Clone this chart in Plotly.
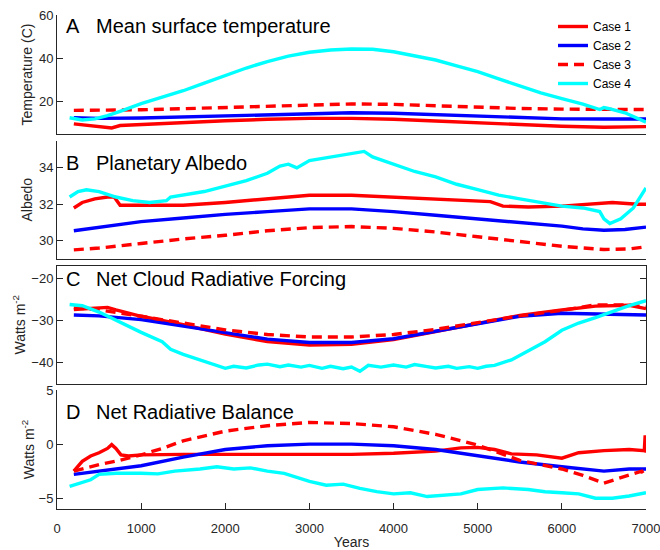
import plotly.graph_objects as go

# ---------------- data ----------------
# Panel A: mean surface temperature (C)
a1_years = [200, 400, 600, 650, 750, 1000, 1500, 2000, 2500, 3000, 3500, 4000, 4500, 5000, 5500, 6000, 6500, 7000]
a1_vals = [9.7, 9.0, 8.0, 7.8, 8.9, 9.4, 10.3, 11.1, 11.8, 12.2, 12.2, 11.8, 11.0, 10.2, 9.2, 8.6, 8.1, 8.4]
a2_years = [200, 500, 1000, 1500, 2000, 2500, 3000, 3500, 4000, 4500, 5000, 5500, 6000, 6500, 7000]
a2_vals = [12.5, 12.2, 12.4, 12.9, 13.5, 14.1, 14.6, 14.8, 14.6, 14.0, 13.2, 12.5, 12.0, 11.9, 11.9]
a3_years = [200, 500, 1000, 1500, 2000, 2500, 3000, 3500, 4000, 4500, 5000, 5500, 6000, 6500, 7000]
a3_vals = [15.9, 15.9, 16.2, 16.7, 17.3, 18.0, 18.6, 18.9, 18.7, 18.0, 17.3, 16.8, 16.5, 16.3, 16.3]
a4_years = [150, 300, 450, 600, 750, 1000, 1250, 1500, 1750, 2000, 2250, 2500, 2750, 3000, 3250, 3500,
            3750, 4000, 4250, 4500, 4750, 5000, 5250, 5500, 5750, 6000, 6250, 6450, 6500, 6550, 6750, 7000]
a4_vals = [12.5, 11.5, 12.0, 13.5, 15.5, 19.0, 22.0, 25.0, 28.5, 32.0, 35.5, 38.5, 41.0, 42.8, 43.8, 44.3,
           44.2, 43.0, 41.3, 39.2, 36.5, 33.8, 30.5, 27.2, 24.0, 21.3, 18.8, 16.3, 17.2, 16.8, 14.8, 10.5]

# Panel B: planetary albedo
b1_years = [200, 300, 450, 600, 680, 750, 1000, 1500, 2000, 2500, 3000, 3500, 4000, 4500, 5000, 5150,
            5300, 5600, 6000, 6300, 6600, 6900, 7000]
b1_vals = [31.8, 32.1, 32.3, 32.4, 32.4, 31.95, 31.95, 31.95, 32.1, 32.3, 32.5, 32.5, 32.4, 32.3, 32.2, 32.15,
           31.9, 31.85, 31.9, 32.0, 32.1, 32.0, 32.0]
b2_years = [200, 500, 1000, 1500, 2000, 2500, 3000, 3500, 4000, 4500, 5000, 5500, 6000, 6250, 6500, 6750, 7000]
b2_vals = [30.55, 30.75, 31.05, 31.25, 31.45, 31.6, 31.75, 31.75, 31.6, 31.4, 31.2, 31.0, 30.8, 30.65, 30.58, 30.62, 30.75]
b3_years = [200, 500, 1000, 1500, 2000, 2500, 3000, 3500, 4000, 4500, 5000, 5500, 6000, 6500, 6800, 7000]
b3_vals = [29.5, 29.6, 29.85, 30.1, 30.3, 30.55, 30.72, 30.78, 30.68, 30.48, 30.22, 29.95, 29.7, 29.52, 29.55, 29.67]
b4_years = [150, 250, 350, 500, 700, 900, 1100, 1300, 1350, 1500, 1750, 2000, 2250, 2500, 2650, 2750, 2850,
            3000, 3250, 3500, 3650, 3750, 4000, 4250, 4500, 4750, 5000, 5250, 5500, 5750, 6000, 6250, 6450,
            6500, 6570, 6700, 6850, 7000]
b4_vals = [32.4, 32.7, 32.8, 32.7, 32.4, 32.2, 32.1, 32.2, 32.4, 32.5, 32.7, 33.0, 33.3, 33.7, 34.1, 34.2, 34.0,
           34.4, 34.6, 34.8, 34.9, 34.6, 34.2, 33.8, 33.5, 33.1, 32.8, 32.5, 32.3, 32.1, 31.9, 31.8, 31.6,
           31.2, 30.95, 31.2, 31.8, 32.9]

# Panel C: net cloud radiative forcing (W m-2)
c1_years = [200, 400, 600, 700, 1000, 1500, 2000, 2500, 3000, 3500, 4000, 4500, 5000, 5500, 6000, 6400, 6800, 7000]
c1_vals = [-27.4, -27.2, -26.9, -27.5, -29.0, -31.0, -33.2, -35.0, -35.8, -35.6, -34.5, -32.6, -30.6, -28.8,
           -27.5, -26.6, -26.4, -27.2]
c2_years = [200, 500, 1000, 1500, 2000, 2500, 3000, 3500, 4000, 4500, 5000, 5500, 6000, 6500, 7000]
c2_vals = [-28.7, -28.9, -29.8, -31.3, -33.0, -34.4, -35.2, -35.2, -34.3, -32.5, -30.6, -29.0, -28.3, -28.4, -28.7]
c3_years = [200, 500, 1000, 1500, 2000, 2500, 3000, 3500, 4000, 4500, 5000, 5500, 6000, 6400, 6800, 7000]
c3_vals = [-27.0, -27.5, -29.0, -30.7, -32.2, -33.3, -33.9, -33.9, -33.3, -32.1, -30.5, -28.9, -27.6, -26.3,
           -26.3, -26.8]
c4_years = [150, 300, 500, 750, 1000, 1250, 1350, 1500, 1650, 1750, 1900, 2000, 2100, 2250, 2400, 2500, 2650,
            2750, 2900, 3000, 3150, 3250, 3400, 3500, 3600, 3700, 3850, 4000, 4150, 4250, 4400, 4500, 4650,
            4750, 4900, 5000, 5100, 5200, 5400, 5600, 5800, 6000, 6200, 6400, 6600, 6800, 7000]
c4_vals = [-26.2, -26.5, -28.0, -30.5, -32.8, -35.0, -36.8, -38.0, -39.0, -39.6, -40.8, -41.3, -40.8, -41.2,
           -40.5, -40.3, -40.9, -40.5, -41.0, -40.6, -41.3, -40.8, -41.4, -41.0, -42.0, -40.6, -41.0, -40.5,
           -41.0, -40.4, -40.9, -41.2, -40.8, -41.3, -40.9, -41.3, -40.8, -40.6, -39.3, -37.2, -35.0, -32.3,
           -30.6, -29.3, -27.8, -26.5, -25.3]

# Panel D: net radiative balance (W m-2)
d1_years = [200, 300, 400, 500, 600, 650, 700, 760, 850, 1000, 1500, 2000, 2500, 3000, 3500, 4000, 4500,
            4800, 5000, 5200, 5400, 5700, 6000, 6200, 6500, 6800, 6980, 6990, 7000]
d1_vals = [-2.5, -1.6, -1.1, -0.8, -0.4, -0.05, -0.4, -1.0, -1.1, -1.0, -0.95, -0.95, -1.0, -1.0, -0.95,
           -0.85, -0.65, -0.35, -0.3, -0.5, -0.9, -1.0, -1.3, -0.8, -0.6, -0.5, -0.6, 0.8, -0.8]
d2_years = [200, 500, 1000, 1500, 2000, 2500, 3000, 3500, 4000, 4500, 5000, 5500, 6000, 6500, 6800, 7000]
d2_vals = [-2.8, -2.5, -2.0, -1.2, -0.5, -0.15, 0.0, 0.0, -0.15, -0.5, -1.1, -1.65, -2.1, -2.5, -2.3, -2.3]
d3_years = [200, 500, 750, 1000, 1250, 1500, 2000, 2500, 3000, 3500, 4000, 4500, 5000, 5500, 6000, 6250,
            6500, 6800, 6950, 7000]
d3_vals = [-2.5, -1.9, -1.5, -1.0, -0.4, 0.3, 1.2, 1.7, 2.0, 1.9, 1.6, 0.9, -0.1, -1.5, -2.3, -2.9, -3.6,
           -2.9, -2.5, -3.1]
d4_years = [150, 300, 400, 500, 700, 1000, 1200, 1400, 1500, 1700, 1900, 2000, 2100, 2300, 2500, 2700, 2900,
            3000, 3200, 3400, 3600, 3800, 4000, 4200, 4400, 4600, 4800, 5000, 5300, 5600, 5800, 6000, 6200,
            6400, 6600, 6800, 7000]
d4_vals = [-3.9, -3.5, -3.3, -2.8, -2.7, -2.7, -2.75, -2.5, -2.45, -2.3, -2.1, -2.2, -2.3, -2.2, -2.5, -2.7,
           -3.2, -3.45, -3.8, -3.7, -4.1, -4.4, -4.6, -4.5, -4.85, -4.75, -4.6, -4.2, -4.05, -4.2, -4.4, -4.5,
           -4.6, -5.0, -5.0, -4.8, -4.5]

case_names = ["Case 1", "Case 2", "Case 3", "Case 4"]
panel_letters = ["A", "B", "C", "D"]
panel_titles = ["Mean surface temperature", "Planetary Albedo", "Net Cloud Radiative Forcing", "Net Radiative Balance"]
y_titles = ["Temperature (C)", "Albedo", "Watts m<sup>-2</sup>", "Watts m<sup>-2</sup>"]
y_ranges = [[5, 60], [29, 35.5], [-45, -17], [-6, 5]]
y_ticks = [[20, 40, 60], [30, 32, 34], [-40, -30, -20], [-5, 0, 5]]
x_ticks = [0, 1000, 2000, 3000, 4000, 5000, 6000, 7000]

panels = [
    [(a1_years, a1_vals), (a2_years, a2_vals), (a3_years, a3_vals), (a4_years, a4_vals)],
    [(b1_years, b1_vals), (b2_years, b2_vals), (b3_years, b3_vals), (b4_years, b4_vals)],
    [(c1_years, c1_vals), (c2_years, c2_vals), (c3_years, c3_vals), (c4_years, c4_vals)],
    [(d1_years, d1_vals), (d2_years, d2_vals), (d3_years, d3_vals), (d4_years, d4_vals)],
]

# ---------------- styling ----------------
W, H = 660, 550
ML, MR, MT, MB = 57, 14, 15, 41
PW, PH = W - ML - MR, H - MT - MB
FONT = "Liberation Sans, Arial, Helvetica, sans-serif"
AX = "#262626"
line_styles = [
    dict(color="#FF0000", width=3.4),
    dict(color="#0000FF", width=3.4),
    dict(color="#FF0000", width=3.4, dash="10px,6px"),
    dict(color="#00FFFF", width=3.4),
]


def py(y_page):
    return (H - MB - y_page) / PH


def px(x_page):
    return (x_page - ML) / PW


# panel vertical extents in page px (top, bottom)
extents = [(15, 134), (140.5, 259), (265.5, 384), (390, 509)]
y_standoffs = [3, 3, 2, 0]

fig = go.Figure()
for p, series in enumerate(panels):
    xa = "x" if p == 0 else f"x{p + 1}"
    ya = "y" if p == 0 else f"y{p + 1}"
    for k, (xs, ys) in enumerate(series):
        fig.add_trace(go.Scatter(
            x=xs, y=ys, mode="lines", line=line_styles[k], name=case_names[k],
            showlegend=(p == 0), xaxis=xa, yaxis=ya, hoverinfo="skip"))

layout = dict(
    width=W, height=H,
    margin=dict(l=ML, r=MR, t=MT, b=MB, pad=0, autoexpand=False),
    paper_bgcolor="white", plot_bgcolor="white",
    font=dict(family=FONT, size=13, color=AX),
    showlegend=True,
    legend=dict(x=px(553), y=py(12), xanchor="left", yanchor="top",
                bgcolor="rgba(0,0,0,0)", borderwidth=0, tracegroupgap=0,
                font=dict(size=12, color="#000000", family=FONT)),
)

annotations = []
for p in range(4):
    xkey = "xaxis" if p == 0 else f"xaxis{p + 1}"
    ykey = "yaxis" if p == 0 else f"yaxis{p + 1}"
    top, bot = extents[p]
    is_bottom = (p == 3)
    is_box = (p == 2)
    xa_def = dict(
        domain=[0, 1], range=[0, 7000], anchor="y" if p == 0 else f"y{p + 1}",
        showline=True, linecolor=AX, linewidth=1, mirror=True if is_box else False,
        showgrid=False, zeroline=False, automargin=False,
        tickvals=x_ticks if is_bottom else [],
        ticks="inside" if is_bottom else "", ticklen=6, tickcolor=AX,
        showticklabels=is_bottom, tickfont=dict(size=13, color=AX),
    )
    if is_bottom:
        xa_def["title"] = dict(text="Years", font=dict(size=14, color=AX), standoff=5)
        xa_def["ticklabelstandoff"] = 7
        xa_def["ticklabeloverflow"] = "allow"
    if p > 0:
        xa_def["matches"] = "x"
    layout[xkey] = xa_def
    layout[ykey] = dict(
        domain=[py(bot), py(top)], range=y_ranges[p], anchor="x" if p == 0 else f"x{p + 1}",
        showline=True, linecolor=AX, linewidth=1, mirror="ticks" if is_box else False,
        showgrid=False, zeroline=False, automargin=False,
        tickvals=y_ticks[p], ticks="inside", ticklen=6, tickcolor=AX,
        tickfont=dict(size=13, color=AX), ticklabeloverflow="allow",
        title=dict(text=y_titles[p], font=dict(size=14, color=AX), standoff=y_standoffs[p]),
    )

letter_centers = [25.5, 163, 279, 412]
for p in range(4):
    annotations.append(dict(text=panel_letters[p], xref="paper", yref="paper",
                            x=px(64), y=py(letter_centers[p]), xanchor="left", yanchor="middle",
                            showarrow=False, font=dict(size=20, color="#000000", family=FONT)))
    annotations.append(dict(text=panel_titles[p], xref="paper", yref="paper",
                            x=px(94), y=py(letter_centers[p]), xanchor="left", yanchor="middle",
                            showarrow=False, font=dict(size=20, color="#000000", family=FONT)))
layout["annotations"] = annotations

fig.update_layout(**layout)
fig.write_html("out.html")
